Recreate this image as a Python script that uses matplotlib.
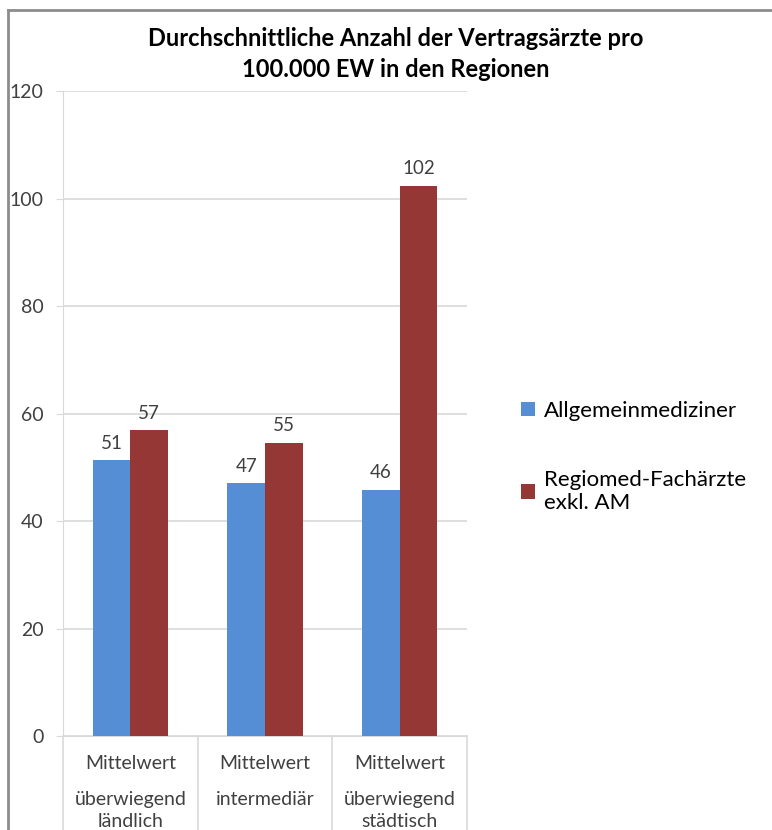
import numpy as np
import matplotlib.pyplot as plt
from matplotlib.lines import Line2D

plt.rcParams['font.family'] = ['Lato', 'DejaVu Sans']

categories = [['Mittelwert', 'überwiegend', 'ländlich'],
              ['Mittelwert', 'intermediär'],
              ['Mittelwert', 'überwiegend', 'städtisch']]
allgemein = [51.3, 47.1, 45.8]
fachaerzte = [56.9, 54.6, 102.4]
series_names = ['Allgemeinmediziner', 'Regiomed-Fachärzte\nexkl. AM']
yticks = [0, 20, 40, 60, 80, 100, 120]

blue = '#558ED5'
red = '#953735'
grid_col = '#D9D9D9'
text_col = '#404040'

fig = plt.figure(figsize=(7.72, 8.3), dpi=100)
ax = fig.add_axes([63 / 772, 1 - 736 / 830, 404 / 772, 645 / 830])

x = np.arange(len(categories))
w = 0.28
b1 = ax.bar(x - w / 2, allgemein, w, color=blue, label=series_names[0], zorder=3)
b2 = ax.bar(x + w / 2, fachaerzte, w, color=red, label=series_names[1], zorder=3)

for bars in (b1, b2):
    for r in bars:
        ax.annotate('%d' % round(r.get_height()), (r.get_x() + r.get_width() / 2, r.get_height()),
                    xytext=(0, 6), textcoords='offset points', ha='center', va='bottom',
                    fontsize=13.5, color=text_col)

ax.set_xlim(-0.5, 2.5)
ax.set_ylim(0, 120)
ax.set_yticks(yticks)
ax.yaxis.grid(True, color=grid_col, linewidth=1.2, zorder=0)
ax.tick_params(axis='y', length=5, color=grid_col, pad=9, labelsize=14, labelcolor=text_col)
ax.tick_params(axis='x', length=0, labelbottom=False)
for s in ('top', 'right'):
    ax.spines[s].set_visible(False)
ax.spines['left'].set_color(grid_col)
ax.spines['bottom'].set_color(grid_col)

# category table below the axis
for xv in [0, 1 / 3, 2 / 3, 1]:
    ax.plot([xv, xv], [0, -0.3], transform=ax.transAxes, color=grid_col,
            linewidth=1.2, clip_on=False)
line_y = [-0.042, -0.099, -0.133]
for i, lines in enumerate(categories):
    for j, t in enumerate(lines):
        ax.text((i + 0.5) / 3, line_y[j], t, transform=ax.transAxes, ha='center',
                va='center', fontsize=14, color=text_col)

fig.text(396 / 772, 1 - 54 / 830, 'Durchschnittliche Anzahl der Vertragsärzte pro\n100.000 EW in den Regionen',
         ha='center', va='center', fontsize=17, fontweight='bold', linespacing=1.4)

ax.legend(loc='center left', bbox_to_anchor=(521 / 772, 1 - 457 / 830),
          bbox_transform=fig.transFigure, frameon=False, fontsize=16,
          borderpad=0, borderaxespad=0,
          handlelength=0.62, handleheight=0.62, handletextpad=0.4, labelspacing=2.2)

# outer frame
fig.add_artist(Line2D([8 / 772, 8 / 772], [0, 1 - 10 / 830], color='#8C8C8C', linewidth=2))
fig.add_artist(Line2D([8 / 772, 1], [1 - 10 / 830, 1 - 10 / 830], color='#8C8C8C', linewidth=2))

fig.savefig('out.png', dpi=100)
